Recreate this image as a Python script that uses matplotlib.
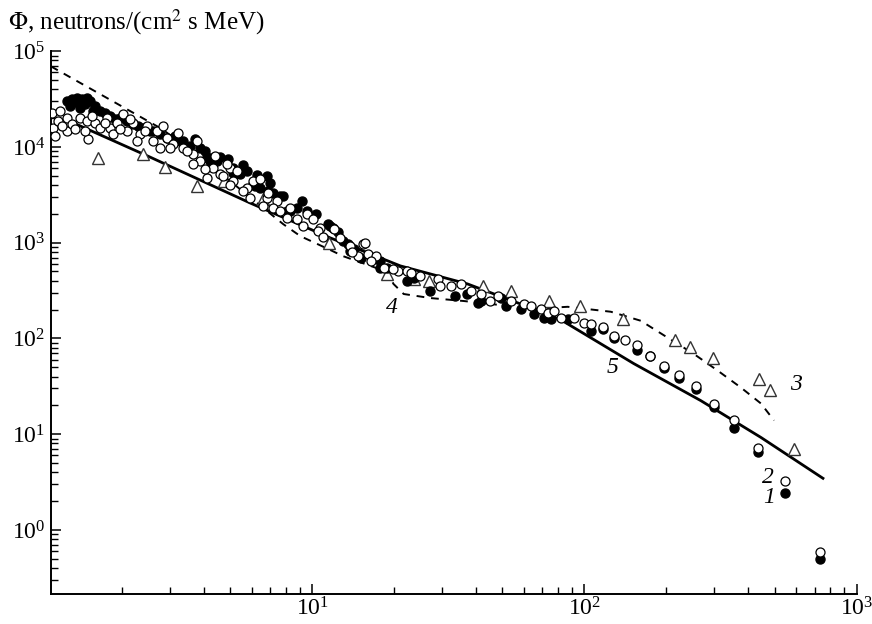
import matplotlib
matplotlib.use("Agg")
import matplotlib.pyplot as plt
from matplotlib.ticker import LogLocator, LogFormatterMathtext, NullFormatter

plt.rcParams['font.family'] = 'serif'
plt.rcParams['font.serif'] = ['Liberation Serif', 'DejaVu Serif']
plt.rcParams['mathtext.fontset'] = 'stix'

# series 1 - filled circles
e1 = [1.26, 1.315, 1.37, 1.43, 1.49, 1.53, 1.29, 1.41, 1.57, 1.67, 1.81, 1.97, 2.20, 2.40,
      2.61, 2.94, 3.28, 3.57, 3.88, 4.23, 4.60, 5.14, 5.78, 6.85, 7.84, 2.54, 3.09, 4.30,
      5.23, 6.19, 6.91, 8.32, 11.68, 13.0, 13.8, 16.8, 17.8, 23.6, 22.4, 37.2, 40.5, 41.6,
      49.2, 58.3, 65.1, 70.9, 86.8, 105.5, 116.8, 128.2, 155.7, 173.8, 195.6, 222.2, 256.6,
      298.7, 354, 433.6, 545, 733,
      3.36, 4.12, 4.49, 5.14, 5.45, 6.08, 6.46, 7.21, 7.65, 8.11, 8.83, 9.61, 11.4, 11.9,
      13.5, 14.2, 15.1, 17.8, 18.9, 1.35, 1.47, 1.60, 1.74, 1.89, 2.09, 2.30, 2.77, 3.14,
      3.72, 4.05, 27.2, 33.6, 51.4, 75.2,
      5.6, 4.9, 6.3, 7.0, 9.2, 10.3, 12.5]
f1 = [29900, 31400, 32140, 31400, 32140, 29900, 26550, 25300, 23550, 23550, 20890, 19910,
      17220, 15660, 14590, 12330, 11460, 10170, 9690, 7100, 7820, 6000, 5590, 4960, 3070,
      14590, 12330, 7640, 5200, 3900, 3460, 2140, 1490, 1040, 820, 677, 545, 429, 399, 292,
      236, 247, 265, 204, 181, 164, 160, 120.3, 126.2, 101.7, 76.3, 66, 49.5, 39, 29.9,
      19.4, 11.7, 6.45, 2.41, 0.495,
      11460, 7820, 7100, 5320, 5200, 4090, 3720, 3300, 3070, 2140, 2300, 2140, 1560, 1420,
      969, 859, 693, 645, 545, 29150, 27800, 26550, 22440, 19450, 18540, 16450, 13580, 12920,
      12020, 9020, 314, 279, 219, 160,
      6500, 7400, 5100, 4200, 2700, 2000, 1300]

# series 2 - open circles
e2 = [1.11, 1.12, 1.14, 1.17, 1.26, 1.26, 1.315, 1.41, 1.49, 1.505, 1.60, 1.67, 1.77, 1.81,
      1.92, 2.02, 2.09, 2.20, 2.34, 2.48, 2.61, 2.70, 2.94, 3.09, 3.36, 3.66, 3.88, 4.34,
      4.60, 5.01, 5.14, 5.78, 6.08, 6.85, 7.46, 8.32, 2.77, 3.66, 4.12, 4.88, 5.93, 7.21,
      8.11, 9.61, 10.7, 12.7, 15.4, 16.0, 18.3, 20.6, 15.7, 14.7, 19.9, 22.4, 28.9, 29.6,
      35.1, 45.2, 48.0, 59.8, 69.1, 73.3, 81.8, 91.3, 99.4, 105.5, 116.8, 128.2, 140.7,
      155.7, 173.8, 195.6, 222.2, 256.6, 298.7, 354, 433.6, 545, 733,
      1.19, 1.21, 1.35, 1.47, 1.56, 1.74, 1.86, 1.97, 2.15, 2.28, 2.44, 2.84, 3.01, 3.23,
      3.48, 3.79, 4.05, 4.41, 4.72, 5.31, 5.59, 6.46, 6.62, 7.65, 8.83, 10.1, 10.5, 12.0,
      13.8, 17.2, 23.0, 25.0, 32.3, 38.2, 41.6, 53.6, 63.5, 77.1,
      5.0, 6.9, 9.3, 11.0, 14.0, 16.5]
f2 = [22440, 15660, 12920, 18540, 19910, 14590, 17220, 19910, 18540, 12020, 17660, 15660,
      19910, 15660, 17660, 21900, 14590, 17660, 13580, 16450, 11460, 14590, 12330, 10670,
      9690, 8390, 7100, 6000, 5200, 6000, 4400, 3720, 4400, 2920, 2720, 2300, 9690, 6590,
      4720, 6590, 2920, 2300, 1810, 1990, 1420, 1120, 969, 762, 545, 507, 988, 726, 532,
      507, 419, 354, 372, 247, 279, 230, 204, 185, 164, 164, 146, 142, 132, 107, 96.9, 86,
      66, 52, 41.9, 32.2, 20.9, 14.2, 7.1, 3.21, 0.586,
      23550, 16450, 15280, 14590, 20890, 17660, 13580, 15280, 19450, 11460, 14590, 16450,
      9690, 13840, 9020, 11460, 5850, 8000, 4960, 5590, 3460, 4610, 2410, 2140, 1766, 1766,
      1324, 1390, 925, 726, 483, 450, 354, 314, 292, 247, 219, 195,
      4000, 3300, 1500, 1150, 800, 640]

# series 3 - triangles
e3 = [1.63, 2.4, 2.89, 3.79, 4.76, 6.62, 11.5, 18.9, 23.6, 26.8, 42.6, 53.6, 74.1, 96.3,
      138.3, 214.8, 243.8, 296.2, 437.5, 480, 588.5]
f3 = [7620, 8400, 6100, 3890, 4370, 2840, 993, 470, 419, 399, 354, 314, 246, 219, 160,
      96.9, 82, 63, 38, 29.2, 6.93]

# curve 4 - dashed
e4 = [1.1, 2.82, 4.8, 7.84, 9.06, 11.7, 13.0, 18.9, 19.9, 21.7, 27.2, 36, 45.2, 65.1, 86.8,
      125, 161, 202, 252, 309, 376, 445, 497]
f4 = [69300, 15300, 4830, 1560, 1170, 835, 723, 495, 371, 291, 264, 246, 229, 204, 214,
      190, 153, 102, 69, 46, 30.6, 20.9, 13.9]

# curve 5 - solid
e5 = [1.315, 2.544, 5.93, 11.68, 21.1, 37.2, 56.9, 81.8, 151.8, 267.6, 445, 751.6]
f5 = [18070, 7820, 2594, 1120, 572, 371, 235, 157, 54.6, 22.4, 9.24, 3.46]

fig = plt.figure(figsize=(8.72, 6.24), dpi=100)
ax = fig.add_axes([0.0585, 0.048, 0.924, 0.870])

ax.plot(e5, f5, color='black', lw=2.0, zorder=2)
ax.plot(e4, f4, color='black', lw=1.4, ls=(0, (4, 3.5)), zorder=2)
ax.plot(e3, f3, ls='none', marker='^', ms=9, mfc='white', mec='#333333', mew=1.0, zorder=3)
ax.plot(e1, f1, ls='none', marker='o', ms=6.5, mfc='black', mec='black', mew=1.0, zorder=4)
ax.plot(e2, f2, ls='none', marker='o', ms=6.5, mfc='white', mec='black', mew=0.9, zorder=5)

ax.text(476, 2.19, '1', fontsize=17, style='italic', ha='center', va='center')
ax.text(472, 3.54, '2', fontsize=17, style='italic', ha='center', va='center')
ax.text(598, 33, '3', fontsize=17, style='italic', ha='center', va='center')
ax.text(19.6, 212, '4', fontsize=17, style='italic', ha='center', va='center')
ax.text(127, 49.5, '5', fontsize=17, style='italic', ha='center', va='center')

ax.set_xscale('log')
ax.set_yscale('log')
ax.set_xlim(1.1, 1000)
ax.set_ylim(0.214, 1e5)

for a in (ax.xaxis, ax.yaxis):
    a.set_major_locator(LogLocator(base=10))
    a.set_minor_locator(LogLocator(base=10, subs=range(2, 10), numticks=20))
    a.set_major_formatter(LogFormatterMathtext())
    a.set_minor_formatter(NullFormatter())

ax.spines['top'].set_visible(False)
ax.spines['right'].set_visible(False)
ax.spines['left'].set_linewidth(1.4)
ax.spines['bottom'].set_linewidth(1.4)
ax.tick_params(which='major', direction='in', length=7.5, width=1.1, labelsize=17)
ax.tick_params(which='minor', direction='in', length=5, width=1.0)
ax.tick_params(axis='x', which='major', pad=2)
ax.tick_params(axis='y', which='major', pad=4)

fig.text(0.009, 0.965, r'$\Phi$, neutrons/(cm$^2$ s MeV)', fontsize=18, ha='left', va='center')

fig.savefig('out.png', dpi=100)
